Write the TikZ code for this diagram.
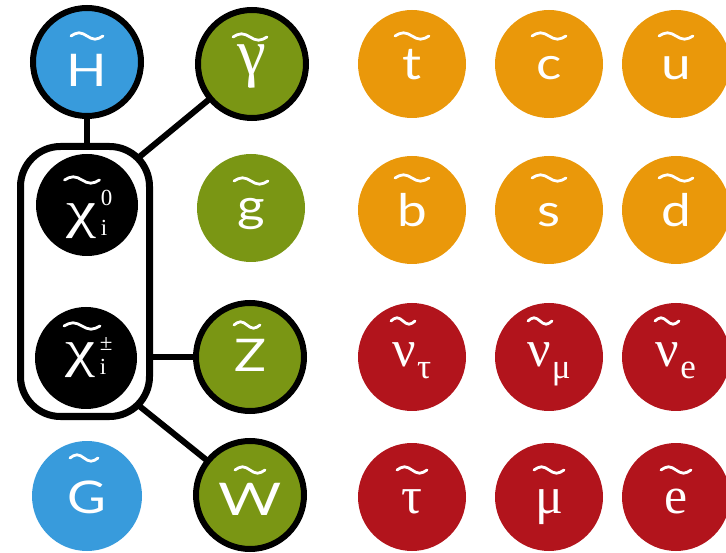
\documentclass[tikz,border=0pt]{standalone}
\usepackage{fontspec}
\newfontfamily\lsf{Lato}[FakeStretch=1.18]
\newfontfamily\gr{Liberation Serif}
\definecolor{cblue}{RGB}{56,155,220}
\definecolor{cgreen}{RGB}{122,150,20}
\definecolor{corange}{RGB}{234,152,10}
\definecolor{cred}{RGB}{178,20,28}
\pgfdeclarelayer{bg}
\pgfsetlayers{bg,main}
\newcommand\Lsz{\lsf\fontsize{45}{50}\selectfont}
\newcommand\Gsz{\gr\fontsize{52}{56}\selectfont}
\newcommand\wchi{\scalebox{1.3}[1]{χ}}
\newcommand\ssc[3]{\kern4pt\rlap{\raisebox{#1pt}{\gr\fontsize{23}{23}\selectfont #2}}\raisebox{-8pt}{\gr\fontsize{23}{23}\selectfont #3}}
\newcommand\nsub[1]{\kern1pt\raisebox{-12pt}{\gr\fontsize{35}{35}\selectfont #1}}
\newcommand\ptc[9]{%
  \node[#4] (#1) at (#2,#3) {};
  \node[lbl] (#1l) at ({#2},{#3+#9}) {#5};
  \draw[tld] ({#2+#8-#7/2},{#3+#6}) sin ++({#7/4},-3.2) cos ++({#7/4},3.2) sin ++({#7/4},3.2) cos ++({#7/4},-3.2);
}
\tikzset{
  ball/.style={circle, inner sep=0pt, outer sep=0pt, minimum size=108pt},
  rim/.style={ball, draw=black, line width=6pt},
  bH/.style={rim, fill=cblue},
  bGm/.style={rim, fill=cgreen},
  pG/.style={ball, fill=cgreen},
  pB/.style={ball, fill=cblue, minimum size=110pt},
  pO/.style={ball, fill=corange},
  pR/.style={ball, fill=cred},
  pchi/.style={ball, fill=black, minimum size=102pt},
  lbl/.style={text=white, inner sep=0pt, anchor=base},
  tld/.style={white, line width=2.8pt, line cap=round},
  conn/.style={line width=6pt},
}
\begin{document}
\begin{tikzpicture}[x=1pt,y=-1pt]
\useasboundingbox (0,0) rectangle (726,553);
\node[draw, line width=7pt, rounded corners=40pt, minimum width=129pt, minimum height=270pt,
      fill=white, inner sep=0pt, outer sep=0pt] (box) at (85,281.5) {};
\coordinate (boxne) at ([shift={(-11.7pt,-11.7pt)}]box.north east);
\coordinate (boxse) at ([shift={(-11.7pt,11.7pt)}]box.south east);
% row 1
\ptc{H}{87}{62}{bH}{\Lsz H}{-26}{32}{0}{25}
\ptc{gam}{252}{64}{bGm}{\Gsz\scalebox{1.25}{γ}}{-27}{34}{-2}{11}
\ptc{t}{412}{64}{pO}{\Lsz t}{-28}{34}{0}{16}
\ptc{c}{549}{64}{pO}{\Lsz c}{-28}{34}{0}{16}
\ptc{u}{676}{64}{pO}{\Lsz u}{-28}{34}{0}{16}
% row 2
\ptc{chiz}{87}{205}{pchi}{\Gsz\wchi\ssc{22}{0}{i}}{-25}{35}{-5}{23}
\ptc{g}{251}{208}{pG}{\Lsz g}{-27}{34}{0}{14}
\ptc{b}{412}{210}{pO}{\Lsz b}{-32}{34}{0}{17}
\ptc{s}{549}{210}{pO}{\Lsz s}{-32}{34}{0}{17}
\ptc{d}{676}{210}{pO}{\Lsz d}{-32}{34}{0}{17}
% row 3
\ptc{chipm}{86}{358}{pchi}{\Gsz\wchi\ssc{17}{±}{i}}{-32}{36}{-4}{9}
\ptc{Z}{250}{357}{bGm}{\Lsz Z}{-32}{26}{-3}{15}
\ptc{nt}{412}{357}{pR}{\Gsz ν\nsub{τ}}{-36}{24}{-9}{10}
\ptc{nm}{549}{357}{pR}{\Gsz ν\nsub{μ}}{-36}{24}{-9}{10}
\ptc{ne}{676}{357}{pR}{\Gsz ν\nsub{e}}{-36}{24}{-9}{10}
% row 4
\ptc{G}{87}{496}{pB}{\Lsz G}{-38}{28}{-3}{17}
\ptc{W}{250}{495}{bGm}{\Lsz\scalebox{1.15}[1]{W}}{-25}{30}{0}{20}
\ptc{tau}{412}{497}{pR}{\Gsz τ}{-27}{30}{0}{16}
\ptc{mu}{549}{497}{pR}{\Gsz μ}{-27}{30}{0}{16}
\ptc{e}{676}{497}{pR}{\Gsz e}{-27}{30}{0}{16}
\begin{pgfonlayer}{bg}
\draw[conn] (H) -- (H |- box.north);
\draw[conn] (gam) -- (boxne);
\draw[conn] (Z) -- (Z -| box.east);
\draw[conn] (W) -- (boxse);
\end{pgfonlayer}
\end{tikzpicture}
\end{document}
